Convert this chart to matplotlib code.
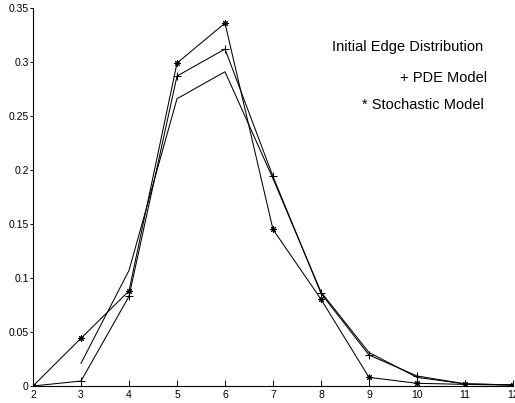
import matplotlib
matplotlib.use("Agg")
import matplotlib.pyplot as plt

plt.rcParams['font.family'] = ['Liberation Sans', 'DejaVu Sans']

x_init = [3, 4, 5, 6, 7, 8, 9, 10, 11, 12]
y_init = [0.021, 0.107, 0.266, 0.291, 0.192, 0.087, 0.031, 0.008, 0.002, 0.001]

x_model = [2, 3, 4, 5, 6, 7, 8, 9, 10, 11, 12]
y_pde = [0.0, 0.0046, 0.083, 0.287, 0.312, 0.194, 0.0858, 0.0287, 0.0093, 0.002, 0.001]
y_stoch = [0.0, 0.0442, 0.088, 0.299, 0.336, 0.145, 0.0803, 0.008, 0.0025, 0.0015, 0.0008]

xticks = [2, 3, 4, 5, 6, 7, 8, 9, 10, 11, 12]
yticks = [0, 0.05, 0.1, 0.15, 0.2, 0.25, 0.3, 0.35]
ytick_labels = ['0', '0.05', '0.1', '0.15', '0.2', '0.25', '0.3', '0.35']

fig = plt.figure(figsize=(5.15, 4.03), dpi=100)
ax = fig.add_axes([33/515, 17/403, 480/515, 378/403])

lw = 0.75
ax.plot(x_init, y_init, color='black', lw=lw)
ax.plot(x_model, y_pde, color='black', lw=lw, marker='+', ms=5.5, mew=0.75)
ax.plot(x_model, y_stoch, color='black', lw=lw, marker=(8, 2, 0), ms=4.5, mew=0.75)

ax.set_xlim(2, 12)
ax.set_ylim(0, 0.35)
ax.set_xticks(xticks)
ax.set_xticklabels([str(v) for v in xticks])
ax.set_yticks(yticks)
ax.set_yticklabels(ytick_labels)

for s in ['top', 'right']:
    ax.spines[s].set_visible(False)
for s in ['left', 'bottom']:
    ax.spines[s].set_linewidth(0.8)

ax.tick_params(axis='x', direction='in', length=4, width=0.7, labelsize=7.5, pad=3)
ax.tick_params(axis='y', direction='out', length=2, width=0.7, labelsize=7.5, pad=1)

ax.text(11.375, 0.314, 'Initial Edge Distribution', ha='right', va='center', fontsize=10.5)
ax.text(11.458, 0.285, '+ PDE Model', ha='right', va='center', fontsize=10.5)
ax.text(11.396, 0.260, '* Stochastic Model', ha='right', va='center', fontsize=10.5)

for lab in ax.get_xticklabels() + ax.get_yticklabels():
    lab.set_clip_on(False)

fig.savefig('out.png', dpi=100)
